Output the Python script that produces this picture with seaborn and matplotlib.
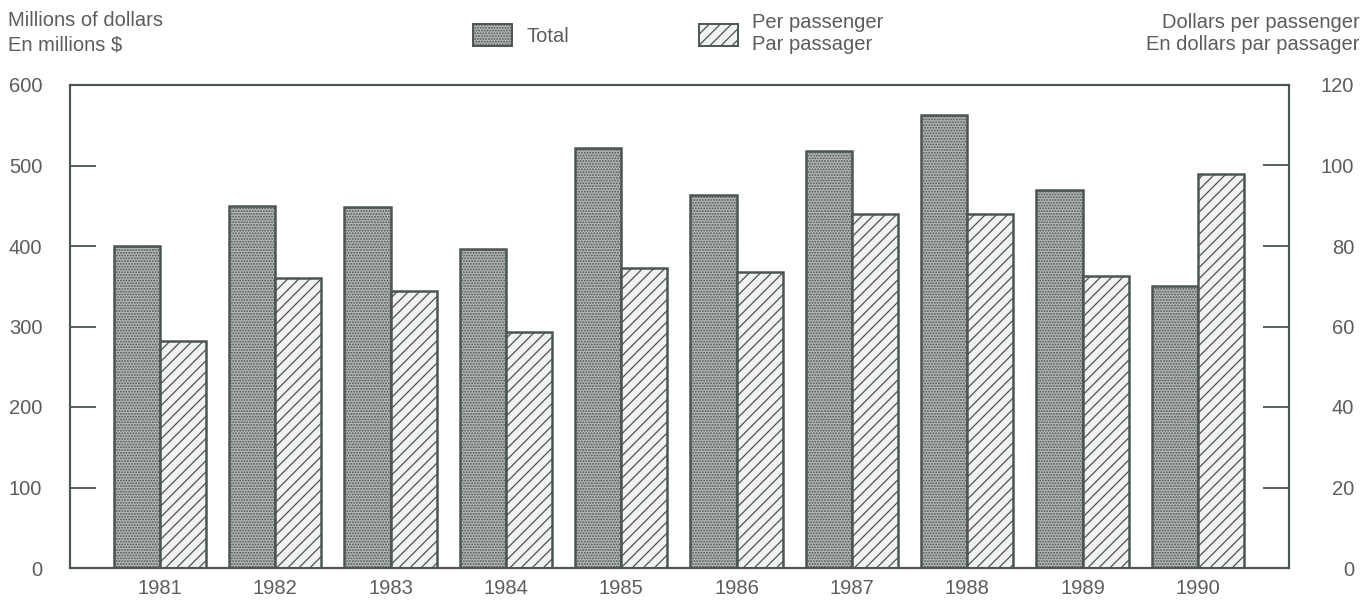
import pandas as pd
import seaborn as sns
import matplotlib.pyplot as plt
from matplotlib.patches import Patch

# values
years = ['1981', '1982', '1983', '1984', '1985', '1986', '1987', '1988', '1989', '1990']
total = [400, 450, 449, 396, 522, 463, 518, 563, 470, 350]          # millions of dollars
per_passenger = [56.5, 72, 68.7, 58.7, 74.5, 73.5, 88, 88, 72.5, 98]  # dollars per passenger

left_ticks = [0, 100, 200, 300, 400, 500, 600]
right_ticks = [0, 20, 40, 60, 80, 100, 120]

series = ['Total', 'Per passenger']
label_total = 'Total'
label_pp = 'Per passenger\nPar passager'

edge = '#4b5650'
txt = '#5a5e5b'
face_total = '#b3b6b3'
face_pp = '#f1f2f1'

sns.set_theme(style='white')
plt.rcParams['font.family'] = ['Liberation Sans', 'DejaVu Sans']
plt.rcParams['hatch.linewidth'] = 0.9
fs = 14.5

fig = plt.figure(figsize=(13.71, 6.03), dpi=100)
ax = fig.add_axes([70 / 1371, 1 - 568 / 603, 1219 / 1371, 483 / 603])
ax2 = ax.twinx()

df_tot = pd.DataFrame({'year': years, 'value': total, 'series': 'Total'})
df_pp = pd.DataFrame({'year': years, 'value': per_passenger, 'series': 'Per passenger'})
pal = {'Total': face_total, 'Per passenger': face_pp}

sns.barplot(data=df_tot, x='year', y='value', hue='series', hue_order=series,
            dodge=True, palette=pal, saturation=1, edgecolor=edge, linewidth=1.8,
            legend=False, ax=ax)
sns.barplot(data=df_pp, x='year', y='value', hue='series', hue_order=series,
            dodge=True, palette=pal, saturation=1, edgecolor=edge, linewidth=1.8,
            legend=False, ax=ax2)

for p in ax.patches:
    p.set_hatch('......')
for p in ax2.patches:
    p.set_hatch('///')

ax.set_xlim(-0.78, 9.79)
ax.set_ylim(0, 600)
ax2.set_ylim(0, 120)
ax.set_yticks(left_ticks)
ax2.set_yticks(right_ticks)
ax.set_xlabel('')
ax.set_ylabel('')
ax2.set_ylabel('')
ax2.set_xlabel('')

ax.tick_params(axis='y', direction='in', length=19, width=1.3, color=edge,
               pad=20, labelsize=fs, labelcolor=txt)
ax.tick_params(axis='x', length=0, pad=8, labelsize=fs, labelcolor=txt)
ax2.tick_params(axis='y', direction='in', length=19, width=1.3, color=edge,
                pad=47, labelsize=fs, labelcolor=txt)
for lab in ax2.get_yticklabels():
    lab.set_ha('right')

for a in (ax, ax2):
    for s in a.spines.values():
        s.set_visible(True)
        s.set_color(edge)
        s.set_linewidth(1.5)

# axis headers
fig.text(8 / 1371, 1 - 21 / 603, 'Millions of dollars', ha='left', va='center', fontsize=fs, color=txt)
fig.text(8 / 1371, 1 - 45 / 603, 'En millions $', ha='left', va='center', fontsize=fs, color=txt)
fig.text(1360 / 1371, 1 - 22 / 603, 'Dollars per passenger', ha='right', va='center', fontsize=fs, color=txt)
fig.text(1360 / 1371, 1 - 45 / 603, 'En dollars par passager', ha='right', va='center', fontsize=fs, color=txt)

handles = [Patch(facecolor=face_total, edgecolor=edge, hatch='......', linewidth=1.4),
           Patch(facecolor=face_pp, edgecolor=edge, hatch='///', linewidth=1.4)]
fig.legend(handles, [label_total, label_pp], ncol=2, loc='center left',
           bbox_to_anchor=(473 / 1371, 1 - 34 / 603), frameon=False, fontsize=fs,
           labelcolor=txt, handlelength=1.95, handleheight=1.3, handletextpad=0.7,
           columnspacing=6.45, borderpad=0, borderaxespad=0)

fig.savefig('out.png', dpi=100)
